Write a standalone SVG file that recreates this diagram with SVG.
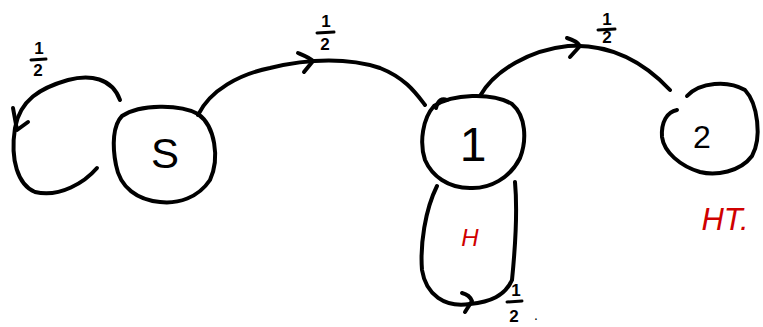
<svg xmlns="http://www.w3.org/2000/svg" width="763" height="327" viewBox="0 0 763 327">
<style>
.s{fill:none;stroke:#000;stroke-width:4;stroke-linecap:round;stroke-linejoin:round}
.t{font-family:"Liberation Sans",Arial,sans-serif;fill:#000}
.r{font-family:"Liberation Sans",Arial,sans-serif;fill:#d00000}
.f{font-family:"Liberation Sans",Arial,sans-serif;font-size:17px;fill:#000;text-anchor:middle;font-weight:bold}
.fb{fill:none;stroke:#000;stroke-width:3;stroke-linecap:round}
</style>
<rect width="763" height="327" fill="#fff"/>
<g id="node-S">
<path class="s" d="M122,116 C140,104 180,104 198,114 C215,126 220,158 210,180 C198,198 178,204 160,202 C138,200 120,188 116,165 C112,145 113,125 122,116 Z"/>
<text class="t" x="165" y="168" font-size="42" text-anchor="middle">S</text>
</g>
<g id="node-1">
<path class="s" d="M434,106 C452,94 492,92 512,104 C526,116 527,140 520,158 C510,178 490,189 470,188 C448,188 432,176 425,160 C419,142 423,118 434,106 Z"/>
<text class="t" x="473" y="161" font-size="48" text-anchor="middle">1</text>
</g>
<g id="node-2">
<path class="s" d="M687,96 C700,82 728,80 745,90 C758,104 762,138 752,156 C740,172 716,176 700,172 C680,166 664,152 662,137 C661,122 667,112 677,110"/>
<text class="t" x="702" y="148" font-size="32" text-anchor="middle">2</text>
<text class="r" x="725" y="230" font-size="31" text-anchor="middle" font-style="italic">HT.</text>
</g>
<g id="connectors">
<path class="s" d="M120,100 C112,78 90,74 68,80 C40,88 20,100 15,128 C10,160 18,185 35,192 C60,198 85,182 97,168"/>
<path class="s" d="M13,108 L17,130 L28,122"/>
<path class="s" d="M198,115 C210,90 240,74 270,68 C310,58 350,58 380,68 C405,78 415,92 425,105"/>
<path class="s" d="M298,53 C305,56 310,58 313,61 L304,72"/>
<path class="s" d="M436,108 C438,100 442,98 447,100"/>
<path class="s" d="M480,96 C495,70 530,50 568,46 C605,44 640,58 670,90"/>
<path class="s" d="M567,38 C574,40 578,43 580,46 L570,57"/>
<path class="s" d="M437,186 C425,210 420,245 422,270 C426,295 445,308 470,304 C490,302 505,296 512,280 C515,250 518,215 515,182"/>
<path class="s" d="M462,293 C466,294 470,296 472,301 L465,312"/>
<text class="f" x="39" y="54">1</text>
<line class="fb" x1="31" y1="60" x2="46" y2="59"/>
<text class="f" x="38" y="76">2</text>
<text class="f" x="326" y="27">1</text>
<line class="fb" x1="317" y1="33" x2="334" y2="32"/>
<text class="f" x="325" y="50">2</text>
<text class="f" x="607" y="25">1</text>
<line class="fb" x1="598" y1="30" x2="615" y2="29"/>
<text class="f" x="607" y="43">2</text>
<text class="f" x="516" y="296">1</text>
<line class="fb" x1="507" y1="302" x2="522" y2="301"/>
<text class="f" x="514" y="322">2</text>
<text class="t" x="534" y="320" font-size="14">.</text>
<text class="r" x="470" y="246" font-size="24" text-anchor="middle" font-style="italic">H</text>
</g>
</svg>
